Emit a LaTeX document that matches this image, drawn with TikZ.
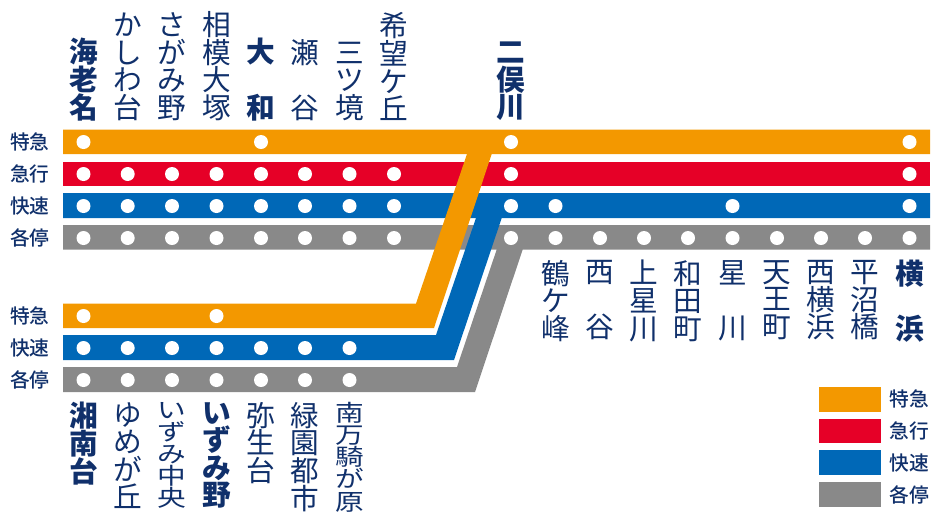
\documentclass[tikz,border=0pt]{standalone}
\usepackage{fontspec}
\setmainfont{Noto Sans CJK JP}
\newfontfamily\labelfont{Noto Sans CJK JP Medium}
\usepackage{graphicx}
\usepackage{xcolor}
\definecolor{tokkyu}{RGB}{243,152,0}
\definecolor{kyuko}{RGB}{230,0,39}
\definecolor{kaisoku}{RGB}{0,104,183}
\definecolor{kakutei}{RGB}{137,137,137}
\definecolor{navy}{RGB}{16,48,107}
\newcommand{\sq}[1]{\scalebox{1}[0.8]{#1}}
\tikzset{
  stationup/.style={anchor=south,inner sep=0pt,color=navy,align=center,font=\fontsize{21.5}{20.7}\selectfont},
  stationdown/.style={anchor=north,inner sep=0pt,color=navy,align=center,font=\fontsize{21.5}{20.7}\selectfont},
  stationfive/.style={stationdown,font=\fontsize{21.5}{16.6}\selectfont},
  typelabel/.style={anchor=center,inner sep=0pt,color=navy,font=\fontsize{14.8}{14.8}\labelfont},
  hub/.style={font=\fontsize{21.5}{20.7}\selectfont\bfseries}
}
\begin{document}
\begin{tikzpicture}[x=0.75pt,y=0.75pt,yscale=-1]
\useasboundingbox (0,0) rectangle (932,515);

%Shape: Grey line
\fill [kakutei] (63,225) -- (930,225) -- (930,249.5) -- (522.7,249.5) -- (475,392) -- (63,392) -- (63,367) -- (457,367) -- (496.7,249.5) -- (63,249.5) -- cycle ;
%Shape: Red line
\fill [kyuko] (63,161.5) rectangle (930,186) ;
%Shape: Blue line
\fill [kaisoku] (63,193) -- (930,193) -- (930,218) -- (501.7,218) -- (454,360) -- (63,360) -- (63,335) -- (436,335) -- (476,218) -- (63,218) -- cycle ;
%Shape: Orange line
\fill [tokkyu] (63,129.5) -- (930,129.5) -- (930,154) -- (491.7,154) -- (434,328) -- (63,328) -- (63,303.5) -- (416,303.5) -- (467,154) -- (63,154) -- cycle ;

%Stops, upper left
\foreach \x in {83.5,261} \fill [white] (\x,142) circle (7) ;
\foreach \x in {83.5,127.7,172,216.5,261,305,349.5,394} {
  \fill [white] (\x,174) circle (7) ;
  \fill [white] (\x,206) circle (7) ;
  \fill [white] (\x,238) circle (7) ;
}
%Stops, main line
\foreach \y in {142,174,206,238} \fill [white] (511,\y) circle (7) ;
\foreach \y in {142,174,206,238} \fill [white] (909.5,\y) circle (7) ;
\foreach \x in {555.5,732.5} \fill [white] (\x,206) circle (7) ;
\foreach \x in {555.5,600,644,688,732.5,777,821,865} \fill [white] (\x,238) circle (7) ;
%Stops, lower left
\foreach \x in {83.5,216.5} \fill [white] (\x,316) circle (7) ;
\foreach \x in {83.5,127.7,172,216.5,261,305,349.5} {
  \fill [white] (\x,348) circle (7) ;
  \fill [white] (\x,380) circle (7) ;
}

%Legend
\fill [tokkyu] (819,386.7) rectangle (881,411.7) ;
\fill [kyuko] (819,418.5) rectangle (881,443) ;
\fill [kaisoku] (819,450) rectangle (881,475) ;
\fill [kakutei] (819,482) rectangle (881,507) ;
\draw (909,399) node (keyA) [typelabel] {特急};
\draw (909,431) node (keyB) [typelabel] {急行};
\draw (909,463) node (keyC) [typelabel] {快速};
\draw (909,495) node (keyD) [typelabel] {各停};

% Text Node
\draw (30,142) node (typeA) [typelabel] {特急};
\draw (30,174) node (typeB) [typelabel] {急行};
\draw (30,206) node (typeC) [typelabel] {快速};
\draw (30,238) node (typeD) [typelabel] {各停};
\draw (30,316) node (typeE) [typelabel] {特急};
\draw (30,348) node (typeF) [typelabel] {快速};
\draw (30,380) node (typeG) [typelabel] {各停};

% Text Node
\draw (83.5,121) node (ebina) [stationup,hub] {海\\老\\名};
\draw (127.7,121) node (kashiwadai) [stationup] {か\\し\\わ\\台};
\draw (172,121) node (sagamino) [stationup] {さ\\が\\み\\野};
\draw (216.5,121) node (sotetsu) [stationup] {相\\模\\大\\塚};
\draw (261,121) node (yamato) [stationup,hub] {大\\ \\和};
\draw (305,121) node (seya) [stationup] {瀬\\ \\谷};
\draw (349.5,121) node (mitsukyo) [stationup] {三\\ツ\\境};
\draw (394,121) node (kibogaoka) [stationup] {希\\望\\ケ\\丘};
\draw (511,121) node (futamatagawa) [stationup,hub] {二\\俣\\川};

% Text Node
\draw (555.5,260) node (tsurugamine) [stationdown] {鶴\\ケ\\峰};
\draw (600,260) node (nishiya) [stationdown] {西\\ \\谷};
\draw (644,260) node (kamihoshikawa) [stationdown] {上\\星\\川};
\draw (688,260) node (wadamachi) [stationdown] {和\\田\\町};
\draw (732.5,260) node (hoshikawa) [stationdown] {星\\ \\川};
\draw (777,260) node (tennocho) [stationdown] {天\\王\\町};
\draw (821,260) node (nishiyokohama) [stationdown] {西\\横\\浜};
\draw (865,260) node (hiranuma) [stationdown] {平\\沼\\橋};
\draw (909.5,260) node (yokohama) [stationdown,hub] {横\\ \\浜};

% Text Node
\draw (83.5,402) node (shonandai) [stationdown,hub] {湘\\南\\台};
\draw (127.7,402) node (yumegaoka) [stationdown] {ゆ\\め\\が\\丘};
\draw (172,402) node (chuo) [stationfive] {\sq{い}\\\sq{ず}\\\sq{み}\\\sq{中}\\\sq{央}};
\draw (216.5,402) node (izumino) [stationdown,hub] {い\\ず\\み\\野};
\draw (261,402) node (yayoidai) [stationdown] {弥\\生\\台};
\draw (305,402) node (ryokuen) [stationdown] {緑\\園\\都\\市};
\draw (349.5,402) node (minamimakigahara) [stationfive] {\sq{南}\\\sq{万}\\\sq{騎}\\\sq{が}\\\sq{原}};

\end{tikzpicture}
\end{document}
